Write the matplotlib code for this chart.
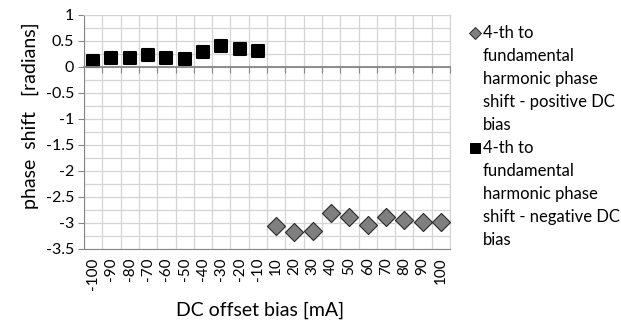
import numpy as np
import matplotlib
matplotlib.use("Agg")
import matplotlib.pyplot as plt
from matplotlib.lines import Line2D

plt.rcParams['font.family'] = ['Lato', 'DejaVu Sans']

# category axis: DC offset bias [mA]
bias_labels = ['-100', '-90', '-80', '-70', '-60', '-50', '-40', '-30', '-20', '-10',
               '10', '20', '30', '40', '50', '60', '70', '80', '90', '100']
neg_bias = ['-100', '-90', '-80', '-70', '-60', '-50', '-40', '-30', '-20', '-10']
neg_phase = [0.12, 0.18, 0.18, 0.23, 0.18, 0.15, 0.29, 0.41, 0.34, 0.31]
pos_bias = ['10', '20', '30', '40', '50', '60', '70', '80', '90', '100']
pos_phase = [-3.05, -3.17, -3.16, -2.81, -2.89, -3.04, -2.88, -2.94, -2.98, -2.98]

yticks = [1, 0.5, 0, -0.5, -1, -1.5, -2, -2.5, -3, -3.5]

W, H = 621, 322
fig = plt.figure(figsize=(W/100, H/100), dpi=100)
ax = fig.add_axes([84/W, 1-249/H, (450-84)/W, (249-15)/H])

xi = {lab: i for i, lab in enumerate(bias_labels)}
xn = [xi[b] for b in neg_bias]
xp = [xi[b] for b in pos_bias]

gridc = '#d4d4d4'
axc = '#868686'

ax.set_xlim(-0.5, len(bias_labels)-0.5)
ax.set_ylim(-3.5, 1)
ax.set_xticks(range(len(bias_labels)))
ax.set_xticklabels(bias_labels, rotation=90, fontsize=11)
ax.set_xticks(np.arange(-0.5, len(bias_labels)), minor=True)
ax.tick_params(axis='x', which='both', length=0, pad=6)
ax.set_yticks(yticks)
ax.set_yticklabels(['%g' % v for v in yticks], fontsize=11.5)
ax.set_yticks(np.arange(-3.25, 1, 0.5), minor=True)
ax.tick_params(axis='y', which='major', length=4, color=axc, pad=3)
ax.tick_params(axis='y', which='minor', length=0)
ax.grid(True, which='both', color=gridc, lw=0.9)
ax.grid(False, axis='x', which='major')
ax.set_axisbelow(True)
for s in ['top', 'right']:
    ax.spines[s].set_color(gridc)
for s in ['left', 'bottom']:
    ax.spines[s].set_color(axc)

# horizontal axis line crossing at 0 with tick marks
ax2 = ax.twiny()
ax2.set_xlim(ax.get_xlim())
ax2.spines['top'].set_visible(False)
ax2.spines['left'].set_visible(False)
ax2.spines['right'].set_visible(False)
ax2.xaxis.set_ticks_position('bottom')
ax2.spines['bottom'].set_position(('data', 0))
ax2.spines['bottom'].set_color(axc)
ax2.spines['bottom'].set_linewidth(1.3)
ax2.set_xticks(np.arange(-0.5, len(bias_labels)))
ax2.set_xticklabels([])
ax2.tick_params(axis='x', length=4, color=axc)

ax.scatter(xp, pos_phase, marker='D', s=85, facecolor='#7f7f7f', edgecolor='#2b2b2b',
           linewidth=0.8, zorder=5)
ax.scatter(xn, neg_phase, marker='s', s=85, facecolor='black', edgecolor='black',
           linewidth=1.5, zorder=5)

fig.text(30/W, 1-116/H, 'phase  shift   [radians]', rotation=90, ha='center', va='center',
         fontsize=14)
fig.text(260/W, 1-310/H, 'DC offset bias [mA]', ha='center', va='center', fontsize=14)

# legend
labels = ['4-th to\nfundamental\nharmonic phase\nshift - positive DC\nbias',
          '4-th to\nfundamental\nharmonic phase\nshift - negative DC\nbias']
markers = [('D', '#7f7f7f', '#2b2b2b', 6), ('s', 'black', 'black', 7)]
tops = [33, 148]
for lab, (m, fc, ec, ms), ty in zip(labels, markers, tops):
    fig.add_artist(Line2D([475/W], [1-ty/H], marker=m, markersize=ms, markerfacecolor=fc,
                          markeredgecolor=ec, markeredgewidth=0.7, transform=fig.transFigure))
    fig.text(483/W, 1-(ty-8)/H, lab, ha='left', va='top', fontsize=12, linespacing=1.54)

fig.savefig('out.png', dpi=100)
